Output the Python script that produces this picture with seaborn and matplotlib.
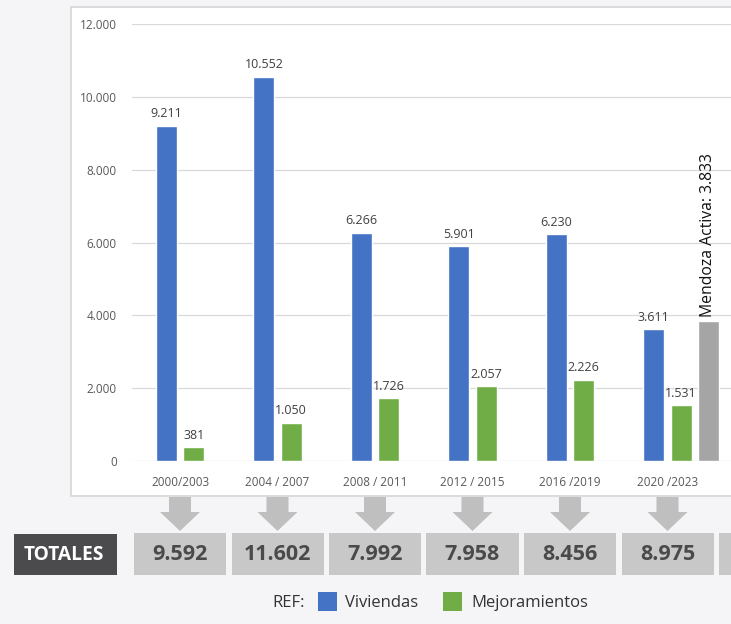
import matplotlib
matplotlib.use("Agg")
import matplotlib.pyplot as plt
import matplotlib.transforms as mtransforms
from matplotlib.patches import Rectangle, Polygon
import pandas as pd
import seaborn as sns

# datos
periodos = ["2000/2003", "2004 / 2007", "2008 / 2011", "2012 / 2015", "2016 /2019", "2020 /2023"]
viviendas = [9211, 10552, 6266, 5901, 6230, 3611]
mejoramientos = [381, 1050, 1726, 2057, 2226, 1531]
mendoza_activa = 3833
totales = [9592, 11602, 7992, 7958, 8456, 8975]

AZUL = "#4472c4"
VERDE = "#70ad47"
GRIS = "#a5a5a5"


def fmt_miles(v):
    """12000 -> '12.000'"""
    return f"{v:,.0f}".replace(",", ".")


def main():
    sns.set_style("white")
    plt.rcParams["font.family"] = ["Open Sans", "DejaVu Sans"]

    W, H = 731, 624
    fig = plt.figure(figsize=(W / 100, H / 100), dpi=100)
    fig.patch.set_facecolor("#f5f5f8")

    # capa de fondo en pixeles (panel blanco, leyenda, TOTALES)
    bg = fig.add_axes([0, 0, 1, 1], zorder=0)
    bg.set_xlim(0, W)
    bg.set_ylim(H, 0)
    bg.axis("off")
    bg.add_patch(Rectangle((71, 7), 700, 489, facecolor="white",
                           edgecolor="#d6d6d6", lw=1.2))

    # eje principal del grafico
    ax = fig.add_axes([132 / W, (H - 461) / H, 599 / W, 437 / H], zorder=1)
    ax.patch.set_visible(False)

    df = pd.DataFrame({"periodo": periodos, "Viviendas": viviendas,
                       "Mejoramientos": mejoramientos})
    df = df.melt(id_vars="periodo", var_name="tipo", value_name="valor")

    sns.barplot(data=df, x="periodo", y="valor", hue="tipo",
                palette=[AZUL, VERDE], width=0.56, gap=0.23,
                legend=False, ax=ax, saturation=1, errorbar=None)

    for cont in ax.containers:
        vals = [b.get_height() for b in cont]
        ax.bar_label(cont, labels=[fmt_miles(v) for v in vals], padding=4,
                     fontsize=9, color="#404040")

    # barra Mendoza Activa, tercera posicion del ultimo periodo
    i_ult = len(periodos) - 1
    x_gris = i_ult + 0.42
    ax.bar(x_gris, mendoza_activa, width=0.2156, color=GRIS, zorder=3)
    ax.annotate(f"Mendoza Activa: {fmt_miles(mendoza_activa)}",
                xy=(x_gris, mendoza_activa), xytext=(0, 3),
                textcoords="offset points", rotation=90, ha="center",
                va="bottom", fontsize=11.3, color="#111111")

    ax.set_ylim(0, 12000)
    ax.set_xlim(-48 / 97.5, 599 / 97.5 - 48 / 97.5)
    ax.set_yticks(range(0, 12001, 2000))
    ax.set_yticklabels([fmt_miles(v) for v in range(0, 12001, 2000)])
    ax.tick_params(axis="y", length=0, pad=11, labelsize=8.5, labelcolor="#595959")
    ax.tick_params(axis="x", length=0, pad=11, labelsize=8.5, labelcolor="#595959")
    ax.set_xlabel("")
    ax.set_ylabel("")
    ax.yaxis.grid(True, color="#d9d9d9", lw=0.9)
    ax.set_axisbelow(True)
    sns.despine(ax=ax, left=True, bottom=True)

    # flechas y cajas de totales: x en categorias, y en pixeles
    tr = mtransforms.blended_transform_factory(ax.transData, bg.transData)
    k = 1 / 97.5  # pixeles -> unidades de categoria
    for i in range(len(periodos)):
        flecha = [(i - 11 * k, 497), (i + 11 * k, 497), (i + 11 * k, 512),
                  (i + 20 * k, 512), (i, 531), (i - 20 * k, 512), (i - 11 * k, 512)]
        bg.add_patch(Polygon(flecha, closed=True, facecolor="#bfbfbf",
                             edgecolor="none", transform=tr, clip_on=False))
    for i in range(len(totales) + 1):
        bg.add_patch(Rectangle((i - 46 * k, 533), 92 * k, 42, facecolor="#c8c8c8",
                               edgecolor="none", transform=tr, clip_on=False))
    for i, t in enumerate(totales):
        bg.text(i, 555, fmt_miles(t), transform=tr, ha="center", va="center",
                fontsize=15.5, fontweight="bold", color="#4a4a4a")

    bg.add_patch(Rectangle((14, 534), 103, 41, facecolor="#4b4b4d", edgecolor="none"))
    bg.text(64, 555, "TOTALES", ha="center", va="center", fontsize=13.8,
            fontweight="bold", color="white")

    # leyenda
    bg.text(305, 603, "REF:", ha="right", va="center", fontsize=12, color="#333333")
    bg.add_patch(Rectangle((318, 592), 19, 19, facecolor=AZUL, edgecolor="none"))
    bg.text(345, 603, "Viviendas", ha="left", va="center", fontsize=12, color="#333333")
    bg.add_patch(Rectangle((443, 592), 19, 19, facecolor=VERDE, edgecolor="none"))
    bg.text(471, 603, "Mejoramientos", ha="left", va="center", fontsize=12, color="#333333")

    fig.savefig("out.png", dpi=100, facecolor=fig.get_facecolor())
    plt.close(fig)


if __name__ == "__main__":
    main()
